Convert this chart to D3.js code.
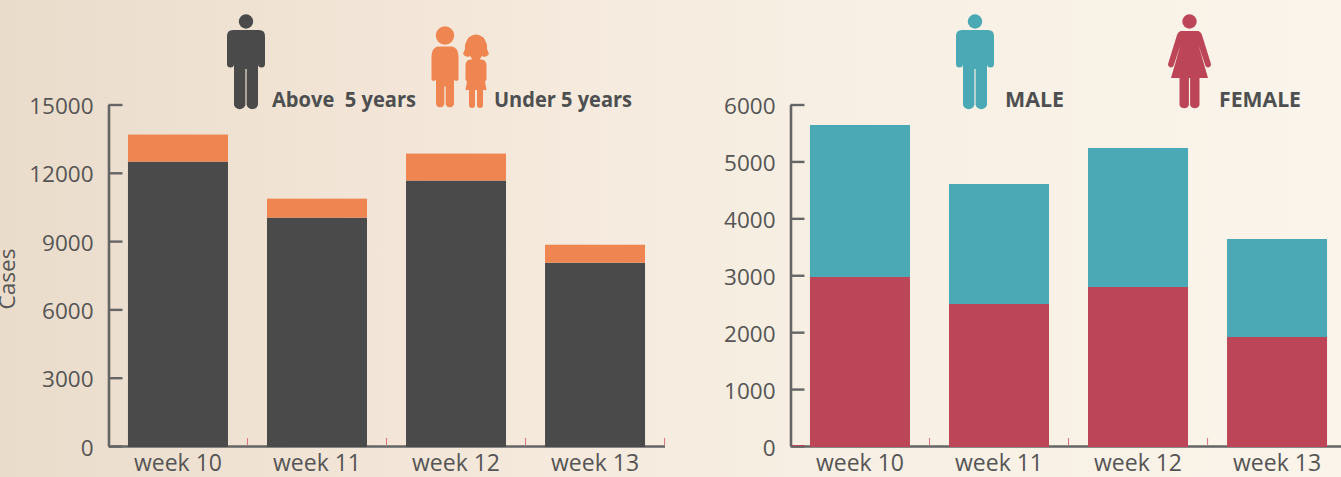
<!DOCTYPE html>
<meta charset="utf-8">
<style>
  html, body { margin: 0; padding: 0; overflow: hidden; }
  text { font-family: "Open Sans", sans-serif; }
</style>
<script src="https://d3js.org/d3.v7.min.js"></script>
<svg id="chart" width="1341" height="477"></svg>
<script>
  // Data
  const weeks = ["week 10", "week 11", "week 12", "week 13"];
  const above5 = [12490, 10030, 11660, 8050];
  const under5 = [1190, 835, 1185, 790];
  const female = [2970, 2495, 2794, 1915];
  const male = [2670, 2108, 2442, 1722];
  const ageTicks = [0, 3000, 6000, 9000, 12000, 15000];
  const sexTicks = [0, 1000, 2000, 3000, 4000, 5000, 6000];

  const dark = "#4a4a4a", orange = "#ef8550", teal = "#4aa9b5", red = "#bc4658";
  const axisColor = "#656565", textColor = "#555", labelColor = "#4d4f50";

  const svg = d3.select("#chart");

  // Background
  const grad = svg.append("defs").append("linearGradient").attr("id", "bg");
  [["0%", "#eadccb"], ["30%", "#f3e6d8"], ["60%", "#f7efe3"], ["100%", "#fbf4ea"]].forEach(d =>
    grad.append("stop").attr("offset", d[0]).attr("stop-color", d[1]));
  svg.append("rect").attr("width", 1341).attr("height", 477).attr("fill", "url(#bg)");

  function stackedChart(left, bottomSeries, topSeries, bottomColor, topColor, yTicks, yMax) {
    const x = d3.scaleBand().domain(weeks)
      .range([left, left + 556])
      .paddingInner(0.2806).paddingOuter(0.14);
    const y = d3.scaleLinear().domain([0, yMax]).range([446, 104.5]);
    const g = svg.append("g");

    const yAxis = g.append("g").attr("transform", `translate(${left},0)`)
      .call(d3.axisLeft(y).tickValues(yTicks).tickFormat(d3.format("d"))
        .tickSizeInner(-14).tickSizeOuter(0).tickPadding(15));
    yAxis.select(".domain").attr("stroke", axisColor).attr("stroke-width", 2.6);
    yAxis.selectAll("line").attr("stroke", axisColor).attr("stroke-width", 2.4);
    yAxis.selectAll("text").attr("fill", textColor).attr("font-size", 22.5)
      .attr("font-family", '"Open Sans", sans-serif')
      .attr("dy", "0.4em");

    const xAxis = g.append("g").attr("transform", "translate(0,446)")
      .call(d3.axisBottom(x).tickSize(0).tickPadding(9));
    xAxis.select(".domain").attr("stroke", axisColor).attr("stroke-width", 2.6);
    xAxis.selectAll("text").attr("fill", textColor).attr("font-size", 23)
      .attr("font-family", '"Open Sans", sans-serif');

    // small red marks between the categories
    g.append("g").selectAll("line")
      .data(weeks)
      .join("line")
      .attr("x1", (d, i) => left + x.step() * (i + 1))
      .attr("x2", (d, i) => left + x.step() * (i + 1))
      .attr("y1", 438).attr("y2", 445)
      .attr("stroke", "#d9707f").attr("stroke-width", 1);

    g.append("g").selectAll("rect")
      .data(weeks)
      .join("rect")
      .attr("x", d => x(d))
      .attr("width", x.bandwidth())
      .attr("y", (d, i) => y(bottomSeries[i]))
      .attr("height", (d, i) => y(0) - y(bottomSeries[i]) + 1)
      .attr("fill", bottomColor);

    g.append("g").selectAll("rect")
      .data(weeks)
      .join("rect")
      .attr("x", d => x(d))
      .attr("width", x.bandwidth())
      .attr("y", (d, i) => y(bottomSeries[i] + topSeries[i]))
      .attr("height", (d, i) => y(bottomSeries[i]) - y(bottomSeries[i] + topSeries[i]))
      .attr("fill", topColor);
  }

  stackedChart(108.5, above5, under5, dark, orange, ageTicks, 15000);
  stackedChart(790.5, female, male, red, teal, sexTicks, 6000);

  // red stub on the right chart's baseline
  svg.append("line").attr("x1", 792).attr("x2", 805).attr("y1", 445.5).attr("y2", 445.5)
    .attr("stroke", red).attr("stroke-width", 1);

  svg.append("text")
    .attr("transform", "translate(15,279) rotate(-90)")
    .attr("text-anchor", "middle")
    .attr("fill", textColor)
    .attr("font-size", 22.5)
    .text("Cases");

  // Legend labels: text, left edge, width
  const legendLabels = [
    ["Above  5 years", 272, 144],
    ["Under 5 years", 494, 138],
    ["MALE", 1005, 59],
    ["FEMALE", 1219, 82]
  ];
  svg.append("g").selectAll("text")
    .data(legendLabels)
    .join("text")
    .attr("x", d => d[1])
    .attr("y", 107)
    .attr("textLength", d => d[2])
    .attr("lengthAdjust", "spacingAndGlyphs")
    .style("white-space", "pre")
    .attr("font-size", 22)
    .attr("font-weight", 700)
    .attr("fill", labelColor)
    .text(d => d[0]);

  // Pictograms
  function icon(cx, top, color, paths, heads) {
    const g = svg.append("g").attr("transform", `translate(${cx},${top})`).attr("fill", color);
    paths.forEach(d => g.append("path").attr("d", d));
    heads.forEach(h => g.append("circle").attr("cx", h[0]).attr("cy", h[1]).attr("r", h[2]));
  }
  const manBody = "M-13,16H13Q19,16 19,22V50A3.5,3.5 0 0 1 12,50V28V55V91A6,6 0 0 1 0.6,91V55H-0.6V91A6,6 0 0 1 -12,91V28V50A3.5,3.5 0 0 1 -19,50V22Q-19,16 -13,16Z";
  const womanBody = "M-8,17H8Q11,17 12.5,21L21.5,50A3,3 0 0 1 16,52L9,31L18.5,64H10V91A5,5 0 0 1 0.6,91V64H-0.6V91A5,5 0 0 1 -10,91V64H-18.5L-9,31L-16,52A3,3 0 0 1 -21.5,50L-12.5,21Q-11,17 -8,17Z";
  const boyBody = "M-7,11H7Q13,12 13.5,21L13.5,44A2.5,2.5 0 0 1 9,44V30V51V69A4.5,4.5 0 0 1 0.7,69V51H-0.7V69A4.5,4.5 0 0 1 -9,69V30V44A2.5,2.5 0 0 1 -13.5,44L-13.5,21Q-13,12 -7,11Z";
  const girlBody = "M-7,-7H7Q12,0 11,5L13,10Q11,13 8,13L6,12Q4,14 4,15.5H6Q10,16 10.5,21V36A2,2 0 0 1 7,36V26L10.5,46H7V61A3,3 0 0 1 1,61V46H-1V61A3,3 0 0 1 -7,61V46H-10.5L-7,26V36A2,2 0 0 1 -10.5,36V21Q-10,16 -6,15.5H-4Q-4,14 -6,12L-8,13Q-11,13 -13,10L-11,5Q-12,0 -7,-7Z";

  icon(246, 14, dark, [manBody], [[0, 7.5, 7.2]]);
  icon(975, 14, teal, [manBody], [[0, 7.5, 7.2]]);
  icon(1189.5, 14, red, [womanBody], [[0, 7.5, 7.2]]);
  icon(445, 35.5, orange, [boyBody], [[0, 0, 9.2]]);
  icon(476, 44, orange, [girlBody], [[0, 0, 9.5]]);
</script>
